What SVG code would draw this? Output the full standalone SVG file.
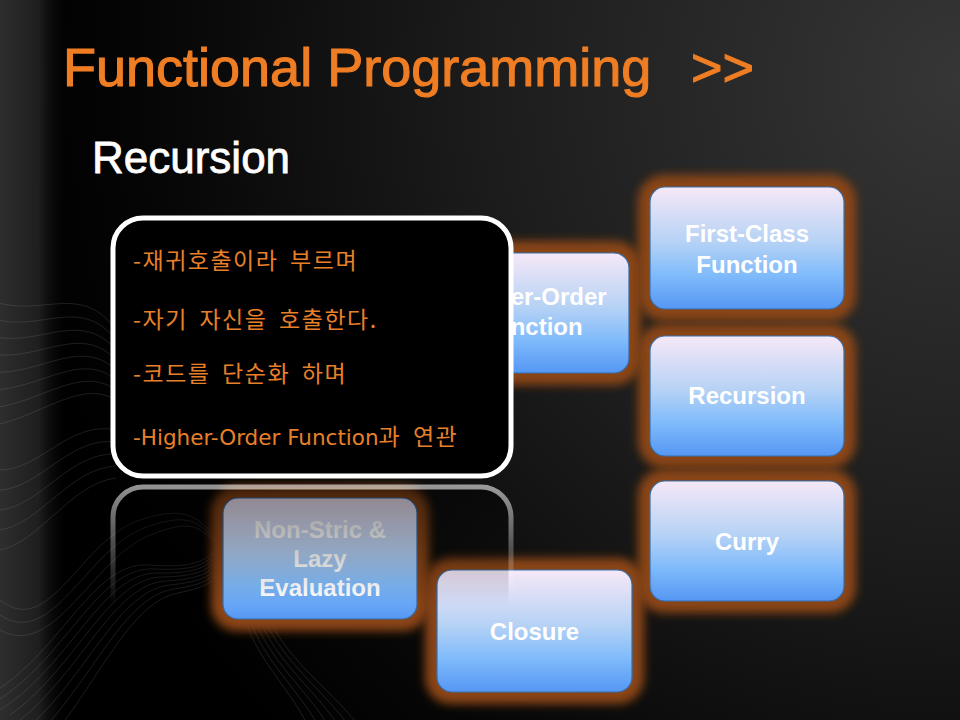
<svg xmlns="http://www.w3.org/2000/svg" width="960" height="720" viewBox="0 0 960 720">
<defs>
  <radialGradient id="bg" cx="960" cy="80" r="950" gradientUnits="userSpaceOnUse">
    <stop offset="0" stop-color="#363636"/>
    <stop offset="0.5" stop-color="#1c1c1c"/>
    <stop offset="0.85" stop-color="#060606"/>
    <stop offset="1" stop-color="#000000"/>
  </radialGradient>
  <linearGradient id="leftStrip" gradientUnits="userSpaceOnUse" x1="0" y1="0" x2="70" y2="0">
    <stop offset="0" stop-color="#2e2e2e" stop-opacity="1"/>
    <stop offset="0.55" stop-color="#242424" stop-opacity="0.85"/>
    <stop offset="1" stop-color="#000000" stop-opacity="0"/>
  </linearGradient>
  <linearGradient id="boxFill" x1="0" y1="0" x2="0" y2="1">
    <stop offset="0" stop-color="#F6E8F7"/>
    <stop offset="0.45" stop-color="#B6D2F5"/>
    <stop offset="0.72" stop-color="#80BBFB"/>
    <stop offset="1" stop-color="#5597F4"/>
  </linearGradient>
  <filter id="blur" x="-30%" y="-30%" width="160%" height="160%">
    <feGaussianBlur stdDeviation="5"/>
  </filter>
  <linearGradient id="reflFade" gradientUnits="userSpaceOnUse" x1="0" y1="485" x2="0" y2="605">
    <stop offset="0" stop-color="#ffffff" stop-opacity="0.58"/>
    <stop offset="1" stop-color="#ffffff" stop-opacity="0"/>
  </linearGradient>
  <mask id="reflMask" maskUnits="userSpaceOnUse" x="0" y="480" width="960" height="140">
    <rect x="0" y="480" width="960" height="140" fill="url(#reflFade)"/>
  </mask>
  <style>
    .glow { fill:#8A4413; filter:url(#blur); }
    .box { fill:url(#boxFill); stroke:#3470B0; stroke-width:1.2; }
    .lbl { font-family:"Liberation Sans", Arial, sans-serif; font-weight:bold; font-size:24px; fill:#ffffff; text-anchor:middle; }
    .pop { font-family:"Noto Sans CJK KR", "DejaVu Sans", sans-serif; font-size:23px; fill:#E8802A; letter-spacing:1.5px; word-spacing:5px; }
    .latin { font-family:"DejaVu Sans", "Noto Sans CJK KR", sans-serif; font-size:21.5px; letter-spacing:0px; word-spacing:0px; }
    .swirl { fill:none; stroke:#a0a0a0; stroke-width:0.7; opacity:0.25; }
    .ttl { font-family:"Liberation Sans", Arial, sans-serif; }
  </style>
</defs>

<!-- background -->
<rect x="0" y="0" width="960" height="720" fill="url(#bg)"/>
<rect x="0" y="0" width="80" height="720" fill="url(#leftStrip)"/>

<!-- decorative swirls -->
<g id="swirls">
  <path class="swirl" d="M-10,300 C40,320 80,280 116,330"/>
  <path class="swirl" d="M-10,318 C40,334 80,294 116,340"/>
  <path class="swirl" d="M-10,336 C40,348 80,308 116,350"/>
  <path class="swirl" d="M-10,354 C40,362 80,322 116,360"/>
  <path class="swirl" d="M-10,372 C40,376 80,336 116,370"/>
  <path class="swirl" d="M-10,390 C40,390 80,350 116,380"/>
  <path class="swirl" d="M-10,408 C40,404 80,364 116,390"/>
  <path class="swirl" d="M-10,426 C40,418 80,378 116,400"/>
  <path class="swirl" d="M0,470 C40,470 70,420 116,430"/>
  <path class="swirl" d="M0,490 C40,488 70,436 116,442"/>
  <path class="swirl" d="M0,510 C40,506 70,452 116,454"/>
  <path class="swirl" d="M0,530 C40,524 70,468 116,466"/>
  <path class="swirl" d="M0,550 C40,542 70,484 116,478"/>

  <path class="swirl" d="M-20,700 C60,660 90,560 150,565 S205,552 224,548"/>
  <path class="swirl" d="M-10,705 C66,662 96,566 154,569 S206,555 224,551"/>
  <path class="swirl" d="M0,710 C72,664 102,572 158,573 S207,558 224,554"/>
  <path class="swirl" d="M10,715 C78,666 108,578 162,577 S208,561 224,557"/>
  <path class="swirl" d="M20,720 C84,668 114,584 166,581 S209,564 224,560"/>
  <path class="swirl" d="M32,724 C90,670 120,590 170,585 S210,567 224,563"/>
  <path class="swirl" d="M44,728 C96,672 126,596 174,589 S211,570 224,566"/>
  <path class="swirl" d="M56,732 C102,674 132,602 178,593 S212,573 224,569"/>
  <path class="swirl" d="M0,600 C50,640 80,540 140,520 S200,530 224,540"/>
  <path class="swirl" d="M0,615 C52,650 86,550 144,528 S201,534 224,543"/>
  <path class="swirl" d="M0,630 C54,660 92,560 148,536 S202,538 224,546"/>

  <path class="swirl" d="M245,620 C258,660 290,690 306,722"/>
  <path class="swirl" d="M250,620 C264,660 298,690 316,722"/>
  <path class="swirl" d="M255,620 C270,660 306,690 326,722"/>
  <path class="swirl" d="M260,620 C276,660 314,690 336,722"/>
  <path class="swirl" d="M265,620 C282,660 322,690 346,722"/>
  <path class="swirl" d="M270,620 C288,660 330,690 356,722"/>
</g>

<!-- title -->
<g id="title">
  <text class="ttl" x="63" y="86" font-size="54" fill="#EF7D23" stroke="#EF7D23" stroke-width="1.1">Functional Programming</text>
  <text class="ttl" x="691" y="86" font-size="54" fill="#EF7D23" stroke="#EF7D23" stroke-width="1.1">&gt;&gt;</text>
  <text class="ttl" x="92" y="173" font-size="44" fill="#ffffff" stroke="#ffffff" stroke-width="0.8">Recursion</text>
</g>

<!-- connectors (none drawn in the picture) -->
<g id="connectors"></g>

<!-- nodes -->
<g id="node-higher-order">
  <rect class="glow" x="423" y="241" width="218" height="144" rx="26"/>
  <rect class="box" x="435" y="253" width="194" height="120" rx="15"/>
  <text class="lbl" x="532" y="305">Higher-Order</text>
  <text class="lbl" x="532" y="335">Function</text>
</g>

<g id="node-first-class">
  <rect class="glow" x="638" y="175" width="218" height="146" rx="26"/>
  <rect class="box" x="650" y="187" width="194" height="122" rx="15"/>
  <text class="lbl" x="747" y="242">First-Class</text>
  <text class="lbl" x="747" y="273">Function</text>
</g>

<g id="node-recursion">
  <rect class="glow" x="638" y="324" width="218" height="144" rx="26"/>
  <rect class="box" x="650" y="336" width="194" height="120" rx="15"/>
  <text class="lbl" x="747" y="404">Recursion</text>
</g>

<g id="node-curry">
  <rect class="glow" x="638" y="469" width="218" height="144" rx="26"/>
  <rect class="box" x="650" y="481" width="194" height="120" rx="15"/>
  <text class="lbl" x="747" y="550">Curry</text>
</g>

<g id="node-non-strict">
  <rect class="glow" x="211" y="486" width="218" height="145" rx="26"/>
  <rect class="box" x="223" y="498" width="194" height="121" rx="15"/>
  <text class="lbl" x="320" y="538">Non-Stric &amp;</text>
  <text class="lbl" x="320" y="567">Lazy</text>
  <text class="lbl" x="320" y="596">Evaluation</text>
</g>

<g id="node-closure">
  <rect class="glow" x="425" y="558" width="219" height="146" rx="26"/>
  <rect class="box" x="437" y="570" width="195" height="122" rx="15"/>
  <text class="lbl" x="534.5" y="640">Closure</text>
</g>

<!-- popup callout -->
<g id="popup">
  <rect x="113" y="218" width="398" height="258" rx="30" fill="#000000" stroke="#ffffff" stroke-width="5"/>
  <text class="pop" x="133" y="269">-재귀호출이라 부르며</text>
  <text class="pop" x="133" y="328">-자기 자신을 호출한다.</text>
  <text class="pop" x="133" y="382">-코드를 단순화 하며</text>
  <text class="pop" x="133" y="445"><tspan class="latin">-Higher-Order Function</tspan>과 연관</text>
</g>

<!-- popup reflection -->
<g id="popup-reflection" mask="url(#reflMask)">
  <rect x="113" y="487" width="398" height="258" rx="30" fill="#000000" fill-opacity="0.8" stroke="#ffffff" stroke-width="5"/>
</g>
</svg>
